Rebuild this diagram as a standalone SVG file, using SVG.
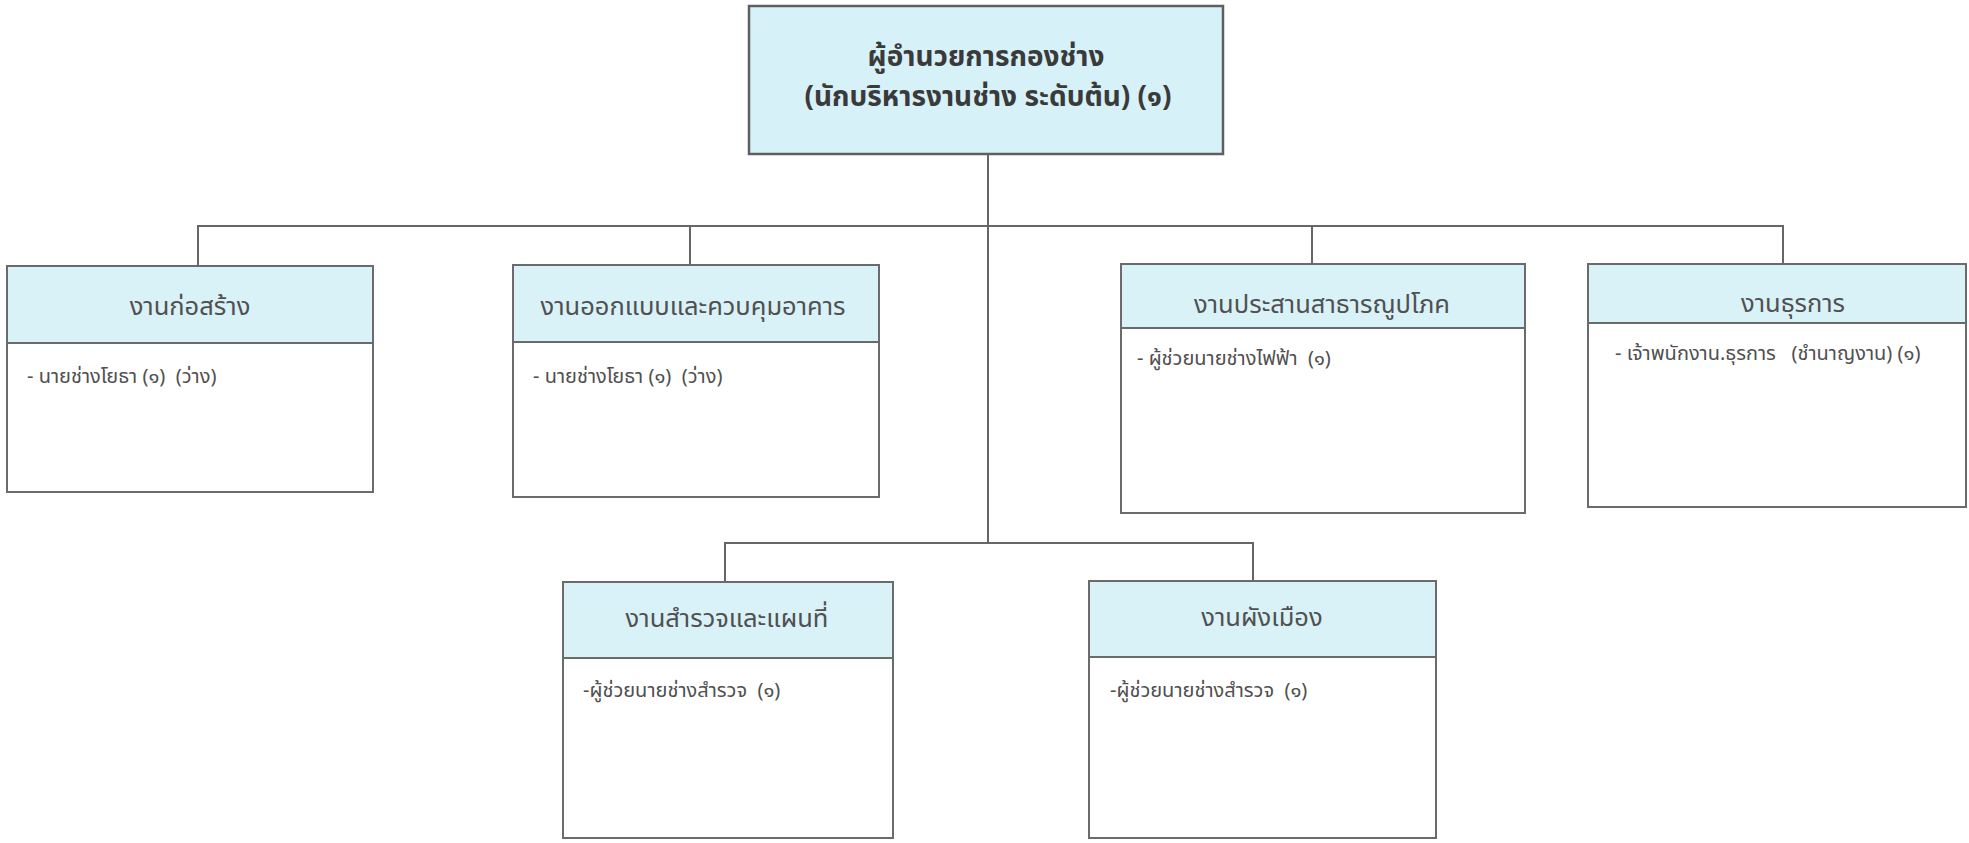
<svg xmlns="http://www.w3.org/2000/svg" width="1969" height="843" viewBox="0 0 1969 843">
<style>
.box{fill:#ffffff;stroke:#6b6b6b;stroke-width:2}
.hdr{fill:#d8f2f8;stroke:#6b6b6b;stroke-width:2}
.top{fill:#d6f1f7;stroke:#5f5f5f;stroke-width:2.5}
.conn{fill:none;stroke:#666;stroke-width:2}
.h{font-family:"Noto Sans Thai","Noto Sans","DejaVu Sans",sans-serif;font-size:25.5px;fill:#505050;text-anchor:middle}
.b{font-family:"Noto Sans Thai","Noto Sans","DejaVu Sans",sans-serif;font-size:20px;fill:#505050}
.t{font-family:"Noto Sans Thai","Noto Sans","DejaVu Sans",sans-serif;font-size:28px;font-weight:bold;fill:#3a3a3a;text-anchor:middle}
</style>
<rect width="1969" height="843" fill="#ffffff"/>
<g id="connectors">
<path class="conn" d="M988 154 V543"/>
<path class="conn" d="M198 265 V226 H1783 V264"/>
<path class="conn" d="M690 226 V265"/>
<path class="conn" d="M1312 226 V264"/>
<path class="conn" d="M725 582 V543 H1253 V581"/>
</g>
<g id="director">
<rect class="top" x="749" y="6" width="474" height="148"/>
<text class="t" x="986" y="66">ผู้อำนวยการกองช่าง</text>
<text class="t" x="988" y="106">(นักบริหารงานช่าง ระดับต้น) (๑)</text>
</g>
<g id="construction">
<rect class="box" x="7" y="266" width="366" height="226"/>
<rect class="hdr" x="7" y="266" width="366" height="77"/>
<text class="h" x="190" y="315">งานก่อสร้าง</text>
<text class="b" x="27" y="383" xml:space="preserve">- นายช่างโยธา (๑)  (ว่าง)</text>
</g>
<g id="design">
<rect class="box" x="513" y="265" width="366" height="232"/>
<rect class="hdr" x="513" y="265" width="366" height="77"/>
<text class="h" x="693" y="315">งานออกแบบและควบคุมอาคาร</text>
<text class="b" x="533" y="383" xml:space="preserve">- นายช่างโยธา (๑)  (ว่าง)</text>
</g>
<g id="utilities">
<rect class="box" x="1121" y="264" width="404" height="249"/>
<rect class="hdr" x="1121" y="264" width="404" height="64"/>
<text class="h" x="1322" y="313">งานประสานสาธารณูปโภค</text>
<text class="b" x="1137" y="365" xml:space="preserve">- ผู้ช่วยนายช่างไฟฟ้า  (๑)</text>
</g>
<g id="admin">
<rect class="box" x="1588" y="264" width="378" height="243"/>
<rect class="hdr" x="1588" y="264" width="378" height="59"/>
<text class="h" x="1793" y="312">งานธุรการ</text>
<text class="b" x="1615" y="360" xml:space="preserve">- เจ้าพนักงาน.ธุรการ   (ชำนาญงาน) (๑)</text>
</g>
<g id="survey">
<rect class="box" x="563" y="582" width="330" height="256"/>
<rect class="hdr" x="563" y="582" width="330" height="76"/>
<text class="h" x="727" y="627">งานสำรวจและแผนที่</text>
<text class="b" x="583" y="697" xml:space="preserve">-ผู้ช่วยนายช่างสำรวจ  (๑)</text>
</g>
<g id="cityplan">
<rect class="box" x="1089" y="581" width="347" height="257"/>
<rect class="hdr" x="1089" y="581" width="347" height="76"/>
<text class="h" x="1262" y="626">งานผังเมือง</text>
<text class="b" x="1110" y="697" xml:space="preserve">-ผู้ช่วยนายช่างสำรวจ  (๑)</text>
</g>
</svg>
